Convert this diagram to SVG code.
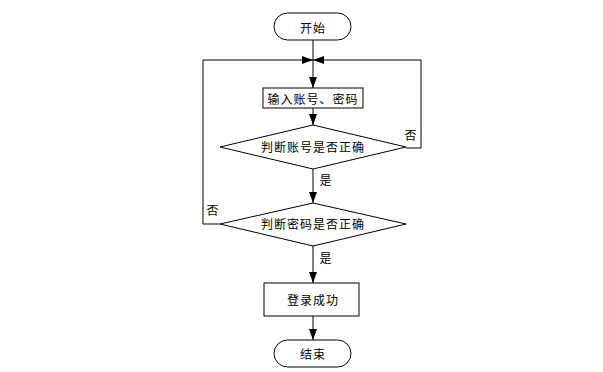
<svg xmlns="http://www.w3.org/2000/svg" width="603" height="372" viewBox="0 0 603 372">
<style>
.shape{fill:#fff;stroke:#000;stroke-width:1}
.t{font-family:"Noto Sans CJK SC","Noto Sans",sans-serif;font-size:12px;fill:#000;text-anchor:middle;dominant-baseline:central;letter-spacing:1px}
.c{fill:none;stroke:#000;stroke-width:1}
</style>
<defs>
<marker id="arr" markerUnits="userSpaceOnUse" markerWidth="11" markerHeight="8" refX="11" refY="4" orient="auto">
<path d="M0,0 L11,4 L0,8 z" fill="#000"/>
</marker>
</defs>
<rect width="603" height="372" fill="#fff"/>
<g id="connectors">
<line class="c" x1="313" y1="40" x2="313" y2="88" marker-end="url(#arr)"/>
<line class="c" x1="313" y1="108" x2="313" y2="125" marker-end="url(#arr)"/>
<line class="c" x1="313" y1="169" x2="313" y2="203" marker-end="url(#arr)"/>
<line class="c" x1="313" y1="246" x2="313" y2="283" marker-end="url(#arr)"/>
<line class="c" x1="313" y1="316" x2="313" y2="340" marker-end="url(#arr)"/>
<polyline class="c" points="406,148 421,148 421,60 313,60" marker-end="url(#arr)"/>
<polyline class="c" points="220,224 203,224 203,60 313,60" marker-end="url(#arr)"/>
<text class="t" x="326" y="179">是</text>
<text class="t" x="326" y="257">是</text>
<text class="t" x="411" y="134">否</text>
<text class="t" x="213" y="209">否</text>
</g>
<g id="start">
<rect class="shape" x="274" y="13" width="77" height="27" rx="13.5"/>
<text class="t" x="313" y="27">开始</text>
</g>
<g id="input">
<rect class="shape" x="263" y="88" width="100" height="20"/>
<text class="t" x="313" y="98">输入账号、密码</text>
</g>
<g id="check-account">
<polygon class="shape" points="313,125 406,147 313,169 220,147"/>
<text class="t" x="313" y="146">判断账号是否正确</text>
</g>
<g id="check-password">
<polygon class="shape" points="313,203 406,224 313,246 220,224"/>
<text class="t" x="313" y="223">判断密码是否正确</text>
</g>
<g id="success">
<rect class="shape" x="264" y="283" width="95" height="33"/>
<text class="t" x="313" y="299">登录成功</text>
</g>
<g id="end">
<rect class="shape" x="274" y="340" width="77" height="27" rx="13.5"/>
<text class="t" x="313" y="353">结束</text>
</g>
</svg>
